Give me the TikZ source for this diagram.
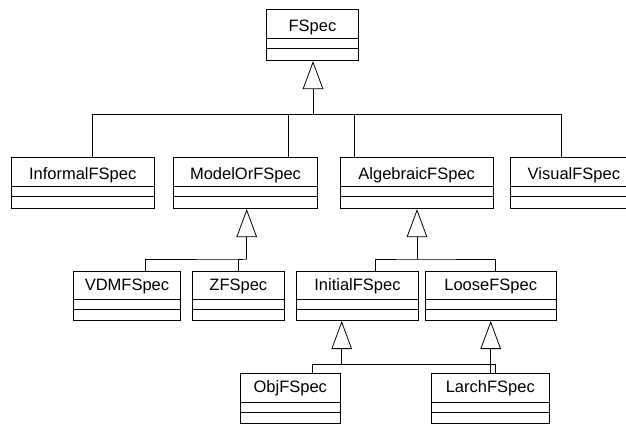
\documentclass[tikz,border=0pt]{standalone}
\usepackage{fontspec}
\setmainfont{Liberation Sans}
\usepackage{xcolor}
\usepackage{tikz}
\usetikzlibrary{arrows.meta}

\begin{document}
\begin{tikzpicture}[
    x = 1pt, y = -1pt,
    line width = 0.8pt,
    classbox/.style = {
        draw, rectangle, anchor=north, inner sep=0pt,
        minimum height=51pt, text height=21.5pt, text depth=29.5pt,
        font=\fontsize{16.5}{18}\selectfont,
        path picture = {
            \draw ([yshift=-28.5pt]path picture bounding box.north west)
               -- ([yshift=-28.5pt]path picture bounding box.north east);
            \draw ([yshift=-38.5pt]path picture bounding box.north west)
               -- ([yshift=-38.5pt]path picture bounding box.north east);
        }
    },
    lower/.style = {minimum height=49.5pt, text height=19pt, text depth=30.5pt},
    gen/.style = {-{Triangle[open, length=28pt, width=20.6pt]}}
  ]
    \path[use as bounding box, clip] (0,0) rectangle (626,423);

    \node[classbox, minimum width=91.6pt] (fspec) at (312.5,9.3) {FSpec};  % root

    \node[classbox, minimum width=143.3pt] (informal) at (82.7,157.3) {InformalFSpec};
    \node[classbox, minimum width=144.4pt] (modelor) at (245.5,157.3) {ModelOrFSpec};
    \node[classbox, minimum width=153.3pt] (algebraic) at (416.7,157.3) {AlgebraicFSpec};
    \node[classbox, minimum width=126.4pt] (visual) at (573.9,157.3) {VisualFSpec};

    \node[classbox, lower, minimum width=107.4pt] (vdm) at (127,270.7) {VDMFSpec};
    \node[classbox, lower, minimum width=92pt] (zf) at (238.3,270.7) {ZFSpec};
    \node[classbox, lower, minimum width=121.6pt] (initial) at (357.5,270.7) {InitialFSpec};
    \node[classbox, lower, minimum width=130.7pt] (loose) at (490.7,270.7) {LooseFSpec};

    \node[classbox, lower, minimum width=100.7pt] (obj) at (290.3,373.3) {ObjFSpec};
    \node[classbox, lower, minimum width=117.3pt] (larch) at (490.3,373.3) {LarchFSpec};  % two parents

    % hubs where the branches meet
    \coordinate (hubA) at (313,114.3);
    \coordinate (hubB) at (246.7,259);
    \coordinate (hubC) at (417,259);
    \coordinate (hubD) at (341.7,364.3);

    % FSpec
    \draw[gen] (hubA) -- (hubA |- fspec.south);
    \draw ([xshift=10pt]informal.north) |- (hubA) -| ([xshift=-12.2pt]visual.north);
    \draw ([xshift=42.8pt]modelor.north) -- ([xshift=42.8pt]modelor.north |- hubA);
    \draw ([xshift=-62.4pt]algebraic.north) -- ([xshift=-62.4pt]algebraic.north |- hubA);

    % ModelOrFSpec
    \draw[gen] (hubB) -- (hubB |- modelor.south);
    \draw ([xshift=18.7pt]vdm.north) |- (hubB) -| (zf.north);

    % AlgebraicFSpec
    \draw[gen] (hubC) -- (hubC |- algebraic.south);
    \draw ([xshift=17.5pt]initial.north) |- (hubC) -| ([xshift=4.3pt]loose.north);

    % InitialFSpec
    \draw[gen] (hubD) -- (hubD |- initial.south);
    \draw ([xshift=22pt]obj.north) |- (hubD) -| ([xshift=4.7pt]larch.north);

    % LooseFSpec
    \draw[gen] (loose.south |- larch.north) -- (loose.south);
\end{tikzpicture}
\end{document}
